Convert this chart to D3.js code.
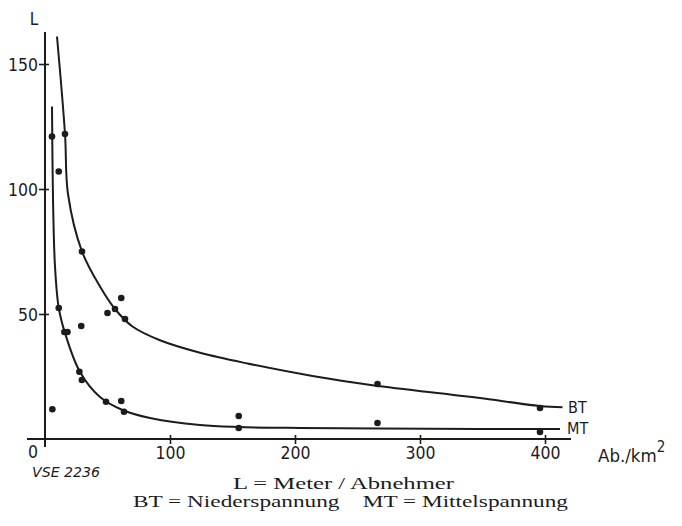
<!DOCTYPE html>
<html>
<head>
<meta charset="utf-8">
<script src="https://cdn.jsdelivr.net/npm/d3@7"></script>
<style>
  body { margin: 0; background: #fff; }
  .lab { font-family: "Liberation Sans Narrow", "DejaVu Sans Condensed", sans-serif; fill: #1c1c1c; }
  .cap { font-family: "Liberation Serif", "DejaVu Serif", serif; fill: #1c1c1c; }
</style>
</head>
<body>
<svg id="chart" width="682" height="526"></svg>
<script>
// values (x = Ab./km2, y = L in m per consumer)
var xTicks = [100, 200, 300, 400];
var yTicks = [50, 100, 150];

// hand drawn fit curves
var btCurve = [[9.6,161],[16,122],[18.4,98],[29.6,75],[44,61],[56,52],[70,45],[92,39.5],
               [124,34.5],[162,30.2],[214,25.2],[262,21.5],[324,17.8],[348,16.4],[396,13.2],[414,12.7]];
var mtCurve = [[5.6,133],[6.4,96],[8,69],[11,52.4],[16,42.4],[28,26.8],[44,16.8],[62,11.6],
               [84,8.4],[124,5.6],[154,4.8],[204,4.4],[268,4.2],[348,4],[412,4]];

// measured points
var btPoints = [[5.6,121],[16,122],[11,107],[29.6,75],[61,56.4],[50,50.4],[56,52],[64,48],
                [266,22],[396,12.4]];
var mtPoints = [[11,52.4],[15.5,42.8],[18,42.8],[29,45.2],[27.5,26.9],[29.5,23.6],[48.8,14.9],
                [61,15.2],[63.2,10.9],[5.9,11.9],[155,9.2],[155,4.4],[266,6.4],[396,2.8]];

var ink = "#1c1c1c";
var svg = d3.select("#chart");

var x = d3.scaleLinear().domain([0, 400]).range([45, 545]);
var y = d3.scaleLinear().domain([0, 150]).range([439, 64]);

// axis lines (a bit longer than the data range, like the original)
svg.append("line").attr("x1", 27).attr("x2", 571).attr("y1", y(0)).attr("y2", y(0))
   .attr("stroke", ink).attr("stroke-width", 2);
svg.append("line").attr("x1", x(0)).attr("x2", x(0)).attr("y1", 32).attr("y2", 447)
   .attr("stroke", ink).attr("stroke-width", 2);

// x axis ticks
var gx = svg.append("g").attr("transform", "translate(0," + y(0) + ")")
    .call(d3.axisBottom(x).tickValues(xTicks).tickSize(4).tickPadding(0));
gx.select(".domain").remove();
gx.selectAll(".tick line").attr("y1", -4).attr("y2", 5).attr("stroke", ink).attr("stroke-width", 1.6);
gx.selectAll(".tick text").attr("class", "lab").attr("y", 20).attr("dy", null)
  .attr("font-size", 17.5).attr("font-family", null).style("fill", ink);

// y axis ticks
var gy = svg.append("g").attr("transform", "translate(" + x(0) + ",0)")
    .call(d3.axisLeft(y).tickValues(yTicks).tickSize(5).tickPadding(0));
gy.select(".domain").remove();
gy.selectAll(".tick line").attr("x1", -6).attr("x2", 4).attr("stroke", ink).attr("stroke-width", 1.6);
gy.selectAll(".tick text").attr("class", "lab").attr("x", -7).attr("dy", "0.36em")
  .attr("font-size", 17.5).attr("font-family", null).style("fill", ink);

// origin "0"
svg.append("text").attr("class", "lab").attr("x", 38).attr("y", 458)
   .attr("text-anchor", "end").attr("font-size", 17.5).text("0");

// curves
var line = d3.line().x(d => x(d[0])).y(d => y(d[1])).curve(d3.curveCatmullRom.alpha(0.5));
[btCurve, mtCurve].forEach(function(c) {
  svg.append("path").attr("d", line(c)).attr("fill", "none")
     .attr("stroke", ink).attr("stroke-width", 2);
});

// points
svg.selectAll("circle.pt").data(btPoints.concat(mtPoints)).enter()
   .append("circle").attr("class", "pt")
   .attr("cx", d => x(d[0])).attr("cy", d => y(d[1])).attr("r", 3.3).attr("fill", ink);

// labels
svg.append("text").attr("class", "lab").attr("x", 34).attr("y", 25)
   .attr("text-anchor", "middle").attr("font-size", 17).text("L");
svg.append("text").attr("class", "lab").attr("x", 568).attr("y", 413)
   .attr("font-size", 16).text("BT");
svg.append("text").attr("class", "lab").attr("x", 567).attr("y", 434)
   .attr("font-size", 16).text("MT");
var ax = svg.append("text").attr("class", "lab").attr("x", 598).attr("y", 462).attr("font-size", 18.5);
ax.append("tspan").text("Ab./km");
ax.append("tspan").attr("dy", -10).attr("font-size", 15).text("2");

svg.append("text").attr("class", "lab").attr("x", 32).attr("y", 477)
   .attr("font-size", 13.5).attr("font-style", "italic")
   .attr("textLength", 68).attr("lengthAdjust", "spacingAndGlyphs").text("VSE 2236");

svg.append("text").attr("class", "cap").attr("x", 233).attr("y", 489)
   .attr("font-size", 17).attr("textLength", 221).attr("lengthAdjust", "spacingAndGlyphs")
   .text("L = Meter / Abnehmer");
svg.append("text").attr("class", "cap").attr("x", 133).attr("y", 507)
   .attr("font-size", 17).attr("textLength", 435).attr("lengthAdjust", "spacingAndGlyphs")
   .attr("xml:space", "preserve").text("BT = Niederspannung    MT = Mittelspannung");
</script>
</body>
</html>
